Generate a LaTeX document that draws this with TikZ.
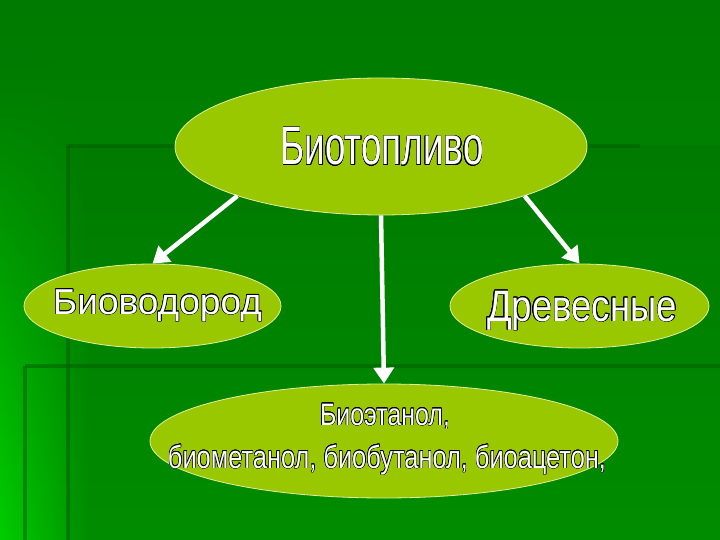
\documentclass[tikz,border=0pt]{standalone}
\usepackage{fontspec}
\setmainfont{Liberation Sans}
\usepackage{contour}
\contourlength{0.55pt}
\usetikzlibrary{arrows.meta,fadings,shapes.geometric}

\definecolor{bgtop}{RGB}{0,122,0}
\definecolor{bgbot}{RGB}{0,146,0}
\definecolor{bright}{RGB}{0,205,0}
\definecolor{dline}{RGB}{0,92,0}
\definecolor{ovfill}{RGB}{153,200,0}
\definecolor{ovedge}{RGB}{225,240,160}

\newcommand{\olt}[3]{\resizebox{#1}{\height}{\fontsize{#2}{#2}\selectfont\contour{black}{\textcolor{white}{#3}}}}

\tikzset{
  oval/.style={ellipse, fill=ovfill, draw=ovedge, line width=0.8pt, inner sep=0pt},
  lbl/.style={anchor=base, inner sep=0pt},
  arr/.style={draw=white, line width=4.5pt, -{Triangle[width=20pt,length=16pt]}, fill=white},
  darkline/.style={dline, line width=4pt, opacity=0.5}
}

\begin{document}
\begin{tikzpicture}[x=1pt,y=-1pt]
\useasboundingbox (0,0) rectangle (720,540);
% background
\fill[top color=bgtop, bottom color=bgbot] (0,0) rectangle (720,540);
\shade[top color=bgtop, bottom color=bright, path fading=east] (0,60) rectangle (90,540);
\fill[black, opacity=0.04] (68,146) rectangle (720,540);
% faint frame lines
\draw[darkline] (67,146) -- (640,146);
\draw[darkline] (68,146) -- (68,540);
\draw[darkline] (25,366) -- (720,366);
\draw[darkline] (25,366) -- (25,540);

% ovals
\node[oval, minimum width=412pt, minimum height=137pt] (top) at (381,146.5) {};
\node[oval, minimum width=257pt, minimum height=84pt] (left) at (152.5,306) {};
\node[oval, minimum width=259pt, minimum height=84pt] (right) at (579.5,306) {};
\node[oval, minimum width=468pt, minimum height=114pt] (bot) at (384,441) {};

% labels
\node[lbl] (ttop) at (382,165) {\olt{203pt}{54pt}{Биотопливо}};
\node[lbl] (tleft) at (157.5,314) {\olt{209pt}{36pt}{Биоводород}};
\node[lbl] (tright) at (582,321) {\olt{190pt}{44pt}{Древесные}};
\node[lbl] (tbot1) at (385,425) {\olt{130pt}{31pt}{Биоэтанол,}};
\node[lbl] (tbot2) at (387,468) {\olt{438pt}{32pt}{биометанол, биобутанол, биоацетон,}};

% arrows
\draw[arr] (top.199) -- (left.north);
\draw[arr] (top.south) -- (bot.north);
\draw[arr] (top.341) -- (right.north);
\end{tikzpicture}
\end{document}
